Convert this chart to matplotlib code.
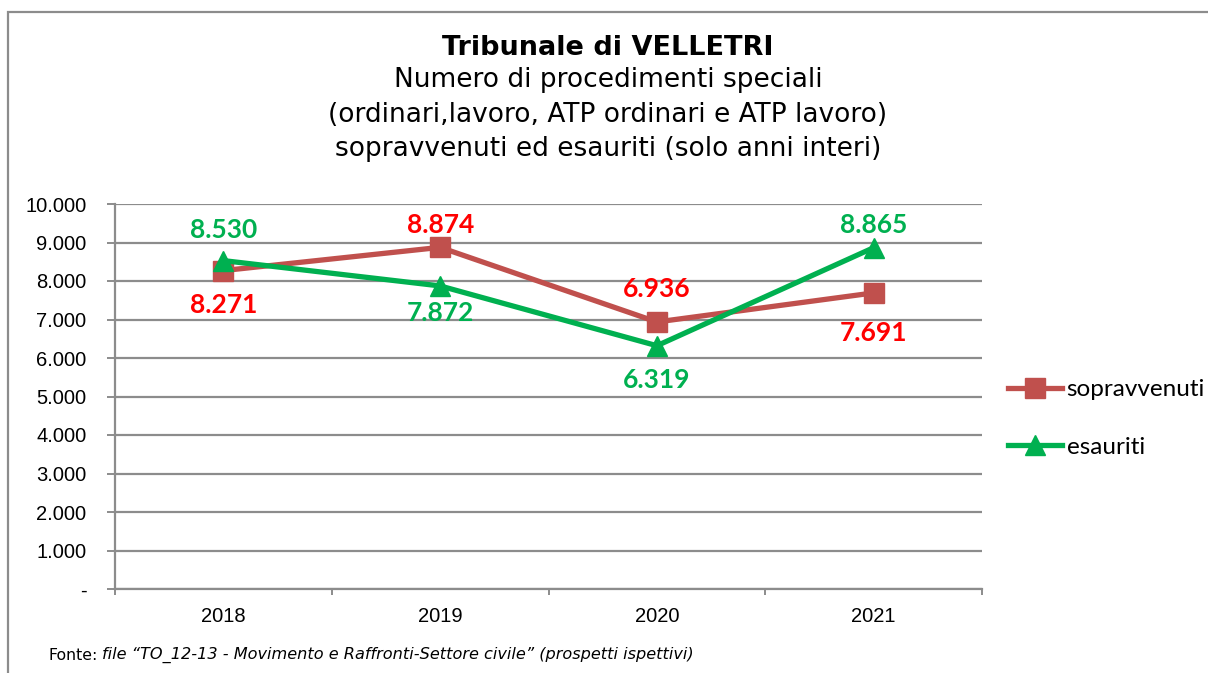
import matplotlib.pyplot as plt
from matplotlib.patches import Rectangle
from matplotlib.ticker import FixedLocator

# data
years = ["2018", "2019", "2020", "2021"]
sopravvenuti = [8271, 8874, 6936, 7691]
esauriti = [8530, 7872, 6319, 8865]
y_ticks = [0, 1000, 2000, 3000, 4000, 5000, 6000, 7000, 8000, 9000, 10000]

# vertical offset of each value label from its point, in pixels (+ above)
sop_label_off = [-34, 22, 33, -40]
esa_label_off = [31, -27, -34, 23]

RED_LINE = "#C0504D"
RED_TEXT = "#FF0000"
GREEN = "#00B050"
GRID = "#8C8C8C"
PX = 72 / 100  # pixels -> points at dpi 100


def fmt_it(v):
    if v == 0:
        return "-"
    return f"{v:,.0f}".replace(",", ".")


fig = plt.figure(figsize=(12.08, 6.73), dpi=100)

# outer frame of the chart area
fig.patches.append(Rectangle((8 / 1208, -0.05), 1.2, 1 - 12 / 673 + 0.05,
                             transform=fig.transFigure, fill=False,
                             edgecolor=GRID, linewidth=1.6))

ax = fig.add_axes([115 / 1208, 1 - 589 / 673, 867 / 1208, 385 / 673])
x = list(range(len(years)))

ax.plot(x, sopravvenuti, color=RED_LINE, linewidth=3.8, marker="s",
        markersize=14, label="sopravvenuti", zorder=3)
ax.plot(x, esauriti, color=GREEN, linewidth=3.8, marker="^",
        markersize=14, label="esauriti", zorder=4)

for vals, offs, col in [(sopravvenuti, sop_label_off, RED_TEXT),
                        (esauriti, esa_label_off, GREEN)]:
    for xi, v, o in zip(x, vals, offs):
        ax.annotate(fmt_it(v), (xi, v), xytext=(0, o * PX), textcoords="offset points",
                    ha="center", va="center", color=col, fontsize=19,
                    fontweight="bold", family="Lato")

ax.set_xlim(-0.5, len(years) - 0.5)
ax.set_ylim(0, 10000)
ax.set_yticks(y_ticks)
ax.set_yticklabels([fmt_it(v) for v in y_ticks], family="Liberation Sans", fontsize=14.5)
ax.set_xticks(x)
ax.set_xticklabels(years, family="Liberation Sans", fontsize=14.5)
ax.xaxis.set_minor_locator(FixedLocator([i - 0.5 for i in range(len(years) + 1)]))
ax.tick_params(axis="x", which="major", length=0, pad=13)
ax.tick_params(axis="x", which="minor", length=4, color=GRID, width=1.4)
ax.tick_params(axis="y", length=5.5, color=GRID, width=1.4, pad=15)

ax.grid(axis="y", color=GRID, linewidth=1.6)
ax.set_axisbelow(True)
for side in ["top", "right"]:
    ax.spines[side].set_visible(False)
for side in ["left", "bottom"]:
    ax.spines[side].set_color(GRID)
    ax.spines[side].set_linewidth(1.6)

ax.legend(loc="center left", bbox_to_anchor=(1.019, 0.443), frameon=False,
          borderaxespad=0, prop={"family": "Lato", "size": 17.5}, handlelength=2.2,
          handletextpad=0.2, labelspacing=1.5)

# titles
fig.text(608 / 1208, 1 - 48 / 673, "Tribunale di VELLETRI", ha="center", va="center",
         fontsize=19.5, fontweight="bold", family="DejaVu Sans")
sub = ["Numero di procedimenti speciali",
       "(ordinari,lavoro, ATP ordinari e ATP lavoro)",
       "sopravvenuti ed esauriti (solo anni interi)"]
for i, line in enumerate(sub):
    fig.text(608 / 1208, 1 - (80 + 34.5 * i) / 673, line, ha="center", va="center",
             fontsize=19, family="DejaVu Sans")

# source note: regular prefix followed by italic text
src = fig.text(48 / 1208, 1 - 655 / 673, "Fonte:", ha="left", va="center",
               fontsize=11.3, family="DejaVu Sans")
renderer = fig.canvas.get_renderer()
bb = src.get_window_extent(renderer)
fig.text((bb.x1 + 5) / 1208, 1 - 655 / 673,
         "file \u201cTO_12-13 - Movimento e Raffronti-Settore civile\u201d (prospetti ispettivi)",
         ha="left", va="center", fontsize=11.6, style="italic", family="DejaVu Sans")

fig.savefig("out.png", dpi=100)
